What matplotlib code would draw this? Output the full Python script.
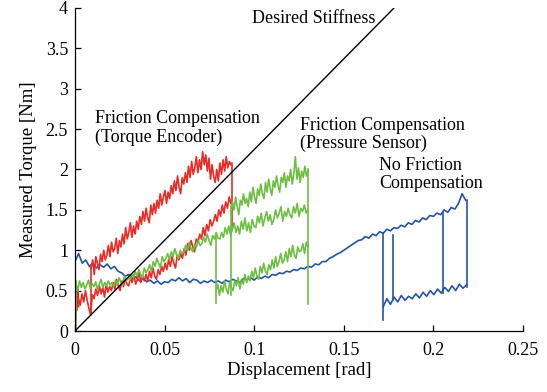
import numpy as np
import matplotlib
matplotlib.use("Agg")
import matplotlib.pyplot as plt

plt.rcParams['font.family'] = ['Liberation Serif', 'DejaVu Serif']

# ---------------- data ----------------
x_ticks = [0, 0.05, 0.1, 0.15, 0.2, 0.25]
x_ticklabels = ["0", "0.05", "0.1", "0.15", "0.2", "0.25"]
y_ticks = [0, 0.5, 1, 1.5, 2, 2.5, 3, 3.5, 4]
y_ticklabels = ["0", "0.5", "1", "1.5", "2", "2.5", "3", "3.5", "4"]

# desired stiffness line
stiff_x = [0.0, 0.178]
stiff_y = [0.0, 4.0]

# Red: friction compensation (torque encoder)
red_start_x = (0.0, 0.002)
red_start_y = [0.0, 0.15, 0.35, 0.25, 0.48, 0.38, 0.55, 0.30]
red_low_x = (0.001, 0.087)
red_low_y = [0.30, 0.40, 0.32, 0.46, 0.36, 0.50, 0.38, 0.28, 0.20, 0.45,
             0.40, 0.52, 0.44, 0.56, 0.46, 0.54, 0.42, 0.58, 0.48, 0.55,
             0.50, 0.60, 0.52, 0.64, 0.56, 0.50, 0.62, 0.55, 0.66, 0.58,
             0.56, 0.66, 0.60, 0.70, 0.58, 0.64, 0.72, 0.60, 0.68, 0.62,
             0.70, 0.62, 0.74, 0.66, 0.78, 0.68, 0.64, 0.76, 0.70, 0.80,
             0.74, 0.84, 0.76, 0.88, 0.80, 0.92, 0.84, 0.78, 0.94, 0.88,
             0.96, 0.90, 1.02, 0.94, 1.08, 1.00, 1.12, 1.04, 0.98, 1.14,
             1.10, 1.20, 1.14, 1.28, 1.18, 1.32, 1.24, 1.38, 1.30, 1.36,
             1.44, 1.36, 1.50, 1.42, 1.56, 1.46, 1.60, 1.52, 1.66, 1.58]
red_jump_x = 0.0875
red_jump_y = [1.25, 2.08]
red_up_x = (0.009, 0.087)
red_up_y = [0.78, 0.88, 0.70, 0.92, 0.84, 0.76, 0.95, 0.86, 1.00, 0.88,
            0.94, 1.06, 0.92, 1.10, 0.98, 1.02, 1.15, 0.96, 1.12, 1.04,
            1.20, 1.08, 1.28, 1.14, 1.22, 1.34, 1.16, 1.30, 1.20, 1.36,
            1.26, 1.42, 1.32, 1.48, 1.36, 1.52, 1.40, 1.34, 1.56, 1.44,
            1.58, 1.46, 1.62, 1.52, 1.70, 1.56, 1.66, 1.74, 1.58, 1.72,
            1.64, 1.80, 1.70, 1.86, 1.74, 1.92, 1.78, 1.70, 1.90, 1.82,
            1.96, 1.84, 2.04, 1.90, 2.10, 1.94, 2.02, 2.16, 1.96, 2.12,
            2.00, 2.22, 2.06, 2.18, 1.98, 2.14, 1.88, 2.06, 1.92, 1.84,
            2.00, 1.86, 2.08, 1.94, 2.12, 1.98, 2.16, 2.02, 2.10, 2.06]
red_drop_x = 0.0088
red_drop_y = [0.80, 0.22]

# Green: friction compensation (pressure sensor)
green_start_x = 0.0005
green_start_y = [0.0, 0.62]
green_mid_x = (0.0005, 0.13)
green_mid_y = [0.58, 0.50, 0.62, 0.54, 0.60, 0.52, 0.57, 0.63, 0.53, 0.59,
               0.55, 0.61, 0.51, 0.58, 0.64, 0.54, 0.60, 0.56, 0.62, 0.57,
               0.60, 0.55, 0.63, 0.58, 0.66, 0.60, 0.57, 0.68, 0.62, 0.66,
               0.63, 0.70, 0.66, 0.74, 0.68, 0.76, 0.70, 0.66, 0.78, 0.72,
               0.76, 0.82, 0.74, 0.86, 0.80, 0.90, 0.84, 0.78, 0.92, 0.86,
               0.90, 0.96, 0.88, 0.98, 0.92, 1.02, 0.94, 0.90, 1.00, 0.96,
               0.98, 1.06, 1.00, 1.10, 1.02, 0.98, 1.08, 1.04, 1.12, 1.06,
               1.08, 1.16, 1.10, 1.20, 1.12, 1.06, 1.18, 1.14, 1.22, 1.15,
               1.14, 1.22, 1.16, 1.28, 1.20, 1.30, 1.18, 1.26, 1.34, 1.22,
               1.30, 1.20, 1.36, 1.26, 1.40, 1.24, 1.34, 1.22, 1.38, 1.30,
               1.28, 1.42, 1.34, 1.46, 1.30, 1.40, 1.48, 1.36, 1.44, 1.32,
               1.38, 1.50, 1.40, 1.46, 1.54, 1.36, 1.48, 1.42, 1.52, 1.44,
               1.40, 1.54, 1.46, 1.58, 1.42, 1.52, 1.48, 1.56, 1.46, 1.50]
green_up_x = (0.087, 0.13)
green_up_y = [1.46, 1.60, 1.50, 1.66, 1.54, 1.44, 1.62, 1.56, 1.70, 1.58,
              1.64, 1.54, 1.72, 1.60, 1.78, 1.66, 1.58, 1.76, 1.68, 1.82,
              1.70, 1.64, 1.84, 1.72, 1.88, 1.76, 1.68, 1.86, 1.78, 1.92,
              1.80, 1.72, 1.90, 1.84, 1.96, 1.78, 1.92, 1.86, 2.00, 1.82,
              1.94, 2.16, 1.88, 2.02, 1.84, 1.98, 1.90, 2.04, 1.92, 1.98]
green_low_x = (0.0787, 0.13)
green_low_y = [0.50, 0.58, 0.44, 0.56, 0.48, 0.62, 0.52, 0.46, 0.60, 0.54,
               0.50, 0.62, 0.56, 0.66, 0.52, 0.64, 0.58, 0.70, 0.60, 0.68,
               0.62, 0.74, 0.66, 0.78, 0.68, 0.64, 0.80, 0.72, 0.84, 0.74,
               0.70, 0.82, 0.76, 0.88, 0.78, 0.92, 0.80, 0.86, 0.96, 0.84,
               0.88, 0.98, 0.86, 1.02, 0.92, 1.06, 0.94, 0.90, 1.04, 0.98,
               1.00, 1.08, 0.96, 1.10, 1.04]
green_vert_x = [0.0787, 0.0872, 0.1300]
green_vert_y = [[1.18, 0.35],
                [1.55, 0.45],
                [2.00, 0.33]]

# Blue: no friction compensation
blue_main_x = (0.0, 0.218)
blue_main_y = [0.86, 0.96, 0.84, 0.88, 0.80, 0.84, 0.78, 0.82, 0.79, 0.83,
               0.77, 0.80, 0.74, 0.72, 0.68, 0.70, 0.65, 0.67, 0.62, 0.65,
               0.61, 0.63, 0.59, 0.62, 0.58, 0.61, 0.60, 0.64, 0.62, 0.66,
               0.62, 0.65, 0.60, 0.64, 0.63, 0.59, 0.62, 0.60, 0.63, 0.60,
               0.62, 0.59, 0.63, 0.61, 0.64, 0.62, 0.60, 0.65, 0.63, 0.66,
               0.63, 0.67, 0.65, 0.68, 0.66, 0.70, 0.69, 0.72, 0.71, 0.74,
               0.73, 0.76, 0.75, 0.78, 0.77, 0.80, 0.79, 0.83, 0.82, 0.86,
               0.86, 0.90, 0.92, 0.95, 0.97, 1.00, 1.03, 1.06, 1.09, 1.12,
               1.13, 1.17, 1.15, 1.20, 1.18, 1.23, 1.21, 1.26, 1.24, 1.28,
               1.27, 1.31, 1.29, 1.34, 1.32, 1.37, 1.35, 1.40, 1.38, 1.43,
               1.42, 1.46, 1.44, 1.50, 1.47, 1.53, 1.51, 1.58, 1.70, 1.62]
blue_low_x = (0.172, 0.2185)
blue_low_y = [0.30, 0.40, 0.33, 0.42, 0.36, 0.44, 0.38, 0.43, 0.40, 0.46, 0.41, 0.48,
              0.43, 0.50, 0.45, 0.52, 0.47, 0.54, 0.49, 0.56, 0.50, 0.58, 0.53, 0.57]
blue_vert_x = [0.172, 0.1775, 0.2055, 0.2185]
blue_vert_y = [[1.21, 0.14],
               [1.19, 0.38],
               [1.46, 0.47],
               [1.62, 0.55]]

RED = "#ec2a26"
GREEN = "#6fbe44"
BLUE = "#2454a6"

# ---------------- figure ----------------
fig = plt.figure(figsize=(5.47, 3.92), dpi=100)
ax = fig.add_axes([75 / 547, 61 / 392, 448 / 547, 323 / 392])

lw = 1.2

def branch(xr, ys, color):
    xs = np.linspace(xr[0], xr[1], len(ys))
    ax.plot(xs, ys, color=color, lw=lw, solid_joinstyle='round')

def vert(x, ys, color):
    ax.plot([x] * len(ys), ys, color=color, lw=lw)

# blue
branch(blue_main_x, blue_main_y, BLUE)
branch(blue_low_x, blue_low_y, BLUE)
for vx, vy in zip(blue_vert_x, blue_vert_y):
    vert(vx, vy, BLUE)

# red
branch(red_start_x, red_start_y, RED)
branch(red_low_x, red_low_y, RED)
vert(red_jump_x, red_jump_y, RED)
branch(red_up_x, red_up_y, RED)
vert(red_drop_x, red_drop_y, RED)

# green
vert(green_start_x, green_start_y, GREEN)
branch(green_mid_x, green_mid_y, GREEN)
branch(green_up_x, green_up_y, GREEN)
branch(green_low_x, green_low_y, GREEN)
for vx, vy in zip(green_vert_x, green_vert_y):
    vert(vx, vy, GREEN)

# desired stiffness
ax.plot(stiff_x, stiff_y, color='black', lw=1.0)

ax.set_xlim(0, 0.25)
ax.set_ylim(0, 4)
ax.set_xticks(x_ticks)
ax.set_xticklabels(x_ticklabels)
ax.set_yticks(y_ticks)
ax.set_yticklabels(y_ticklabels)
ax.spines['top'].set_visible(False)
ax.spines['right'].set_visible(False)
for s in ('left', 'bottom'):
    ax.spines[s].set_linewidth(0.9)
ax.tick_params(direction='in', length=4, width=0.9, labelsize=13)
ax.tick_params(axis='y', pad=5)
ax.tick_params(axis='x', pad=8)

ax.set_xlabel("Displacement [rad]", fontsize=13.5, labelpad=2)
ax.set_ylabel("Measured Torque [Nm]", fontsize=13.5, labelpad=6)

fs = 13
ax.text(0.0988, 3.81, "Desired Stiffness", fontsize=fs, va='baseline', ha='left')
ax.text(0.0112, 2.57, "Friction Compensation", fontsize=fs, va='baseline')
ax.text(0.0112, 2.34, "(Torque Encoder)", fontsize=fs, va='baseline')
ax.text(0.1258, 2.49, "Friction Compensation", fontsize=fs, va='baseline')
ax.text(0.1258, 2.27, "(Pressure Sensor)", fontsize=fs, va='baseline')
ax.text(0.1696, 1.99, "No Friction", fontsize=fs, va='baseline')
ax.text(0.1696, 1.77, "Compensation", fontsize=fs, va='baseline')

fig.savefig("out.png", dpi=100)
